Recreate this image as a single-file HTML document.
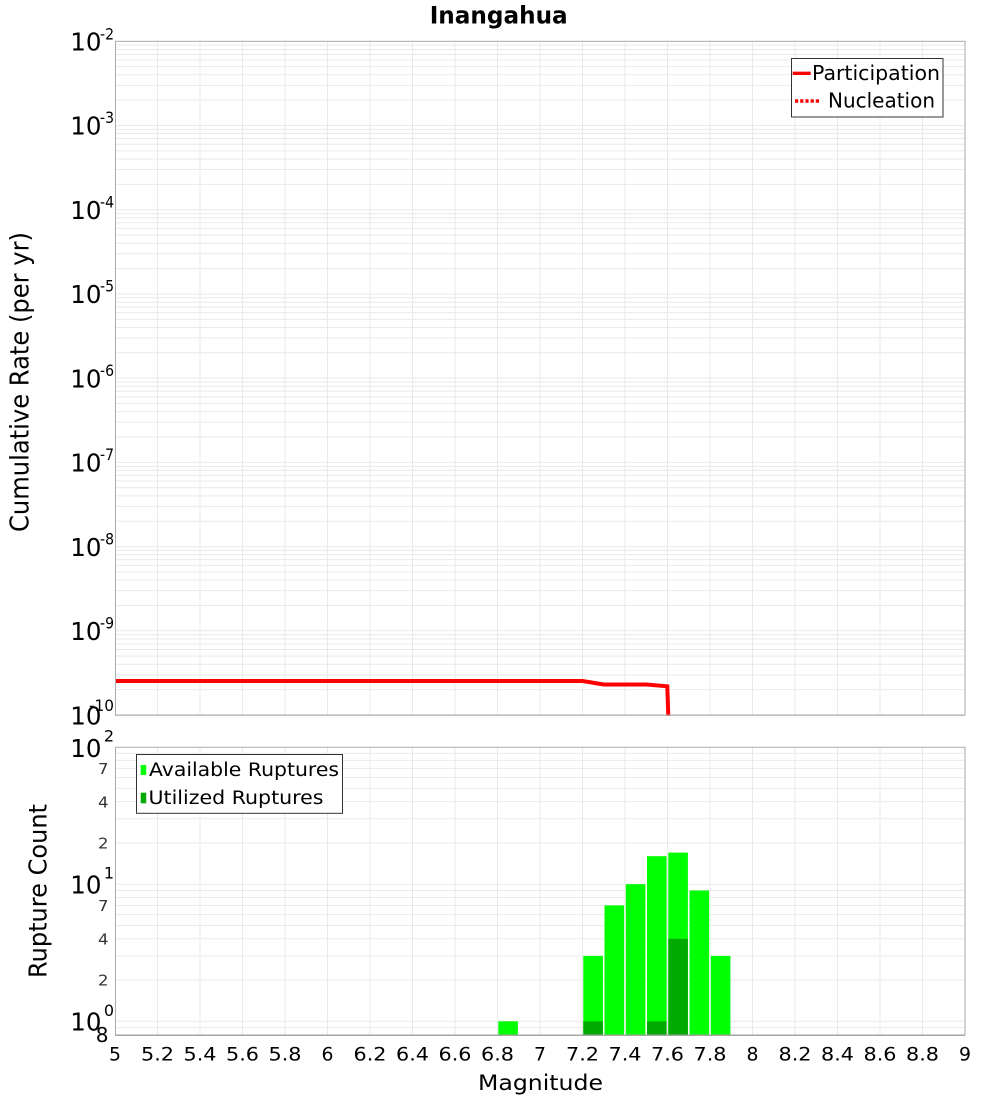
<!DOCTYPE html>
<html><head><meta charset="utf-8"><style>
html,body{margin:0;padding:0;background:#fff;}
svg{display:block;}
text{font-family:"DejaVu Sans","Liberation Sans",sans-serif;}
</style></head><body>
<svg width="1000" height="1100" viewBox="0 0 1000 1100" xmlns="http://www.w3.org/2000/svg">
<rect x="0" y="0" width="1000" height="1100" fill="#fff"/>
<!-- Title -->
<text x="498.7" y="23.3" font-size="24" font-weight="bold" text-anchor="middle" textLength="138" lengthAdjust="spacingAndGlyphs">Inangahua</text>

<!-- TOP PLOT -->
<g stroke="#e9e9e9" stroke-width="1" fill="none">
<path d="M157.5 41.3V715M200 41.3V715M242.5 41.3V715M285 41.3V715M327.5 41.3V715M370 41.3V715M412.5 41.3V715M455 41.3V715M497.5 41.3V715M540 41.3V715M582.5 41.3V715M625 41.3V715M667.5 41.3V715M710 41.3V715M752.5 41.3V715M795 41.3V715M837.5 41.3V715M880 41.3V715M922.5 41.3V715"/>
<g transform="translate(0,715)"><path d="M115 0H965M115 -25.35H965M115 -40.18H965M115 -50.7H965M115 -58.86H965M115 -65.53H965M115 -71.17H965M115 -76.05H965M115 -80.36H965"/></g>
<g transform="translate(0,630.79)"><path d="M115 0H965M115 -25.35H965M115 -40.18H965M115 -50.7H965M115 -58.86H965M115 -65.53H965M115 -71.17H965M115 -76.05H965M115 -80.36H965"/></g>
<g transform="translate(0,546.58)"><path d="M115 0H965M115 -25.35H965M115 -40.18H965M115 -50.7H965M115 -58.86H965M115 -65.53H965M115 -71.17H965M115 -76.05H965M115 -80.36H965"/></g>
<g transform="translate(0,462.36)"><path d="M115 0H965M115 -25.35H965M115 -40.18H965M115 -50.7H965M115 -58.86H965M115 -65.53H965M115 -71.17H965M115 -76.05H965M115 -80.36H965"/></g>
<g transform="translate(0,378.15)"><path d="M115 0H965M115 -25.35H965M115 -40.18H965M115 -50.7H965M115 -58.86H965M115 -65.53H965M115 -71.17H965M115 -76.05H965M115 -80.36H965"/></g>
<g transform="translate(0,293.94)"><path d="M115 0H965M115 -25.35H965M115 -40.18H965M115 -50.7H965M115 -58.86H965M115 -65.53H965M115 -71.17H965M115 -76.05H965M115 -80.36H965"/></g>
<g transform="translate(0,209.72)"><path d="M115 0H965M115 -25.35H965M115 -40.18H965M115 -50.7H965M115 -58.86H965M115 -65.53H965M115 -71.17H965M115 -76.05H965M115 -80.36H965"/></g>
<g transform="translate(0,125.51)"><path d="M115 0H965M115 -25.35H965M115 -40.18H965M115 -50.7H965M115 -58.86H965M115 -65.53H965M115 -71.17H965M115 -76.05H965M115 -80.36H965"/></g>
</g>

<!-- participation line -->
<polyline points="115,681 582.5,681 603.75,684.5 646.25,684.5 667.3,686.3 668.3,716" fill="none" stroke="#ff0000" stroke-width="4" stroke-linejoin="miter"/>

<rect x="115.5" y="41.3" width="849.5" height="673.7" fill="none" stroke="#aaaaaa" stroke-width="1"/>
<rect x="0" y="716" width="1000" height="3" fill="#fff"/>
<line x1="115" y1="715.3" x2="965" y2="715.3" stroke="#aaaaaa" stroke-width="1"/>

<!-- top legend -->
<rect x="791.5" y="58.5" width="151.5" height="58.5" fill="#fff" stroke="#333" stroke-width="1"/>
<line x1="792.7" y1="73.3" x2="810.7" y2="73.3" stroke="#ff0000" stroke-width="3.4"/>
<text x="812" y="80" font-size="20" textLength="128" lengthAdjust="spacingAndGlyphs">Participation</text>
<line x1="795" y1="101" x2="820" y2="101" stroke="#ff0000" stroke-width="3.4" stroke-dasharray="3.2,2"/>
<text x="828" y="107.7" font-size="20" textLength="107" lengthAdjust="spacingAndGlyphs">Nucleation</text>

<!-- top y tick labels -->
<g font-size="24.5" fill="#000">
<text x="70.3" y="50.5">10</text>
<text x="70.3" y="134.7">10</text>
<text x="70.3" y="218.9">10</text>
<text x="70.3" y="303.1">10</text>
<text x="70.3" y="387.3">10</text>
<text x="70.3" y="471.5">10</text>
<text x="70.3" y="555.8">10</text>
<text x="70.3" y="640">10</text>
<text x="70.3" y="724.5">10</text>
</g>
<g font-size="16" fill="#000">
<text x="100" y="39.5" textLength="14" lengthAdjust="spacingAndGlyphs">-2</text>
<text x="100" y="123.2" textLength="14" lengthAdjust="spacingAndGlyphs">-3</text>
<text x="100" y="207.4" textLength="14" lengthAdjust="spacingAndGlyphs">-4</text>
<text x="100" y="291.6" textLength="14" lengthAdjust="spacingAndGlyphs">-5</text>
<text x="100" y="375.8" textLength="14" lengthAdjust="spacingAndGlyphs">-6</text>
<text x="100" y="460" textLength="14" lengthAdjust="spacingAndGlyphs">-7</text>
<text x="100" y="544.3" textLength="14" lengthAdjust="spacingAndGlyphs">-8</text>
<text x="100" y="628.5" textLength="14" lengthAdjust="spacingAndGlyphs">-9</text>
<text x="89" y="711" textLength="25" lengthAdjust="spacingAndGlyphs">-10</text>
</g>

<text transform="translate(28.3,382) rotate(-90)" font-size="25.5" text-anchor="middle" textLength="300" lengthAdjust="spacingAndGlyphs">Cumulative Rate (per yr)</text>

<!-- BOTTOM PLOT -->
<g stroke="#e9e9e9" stroke-width="1" fill="none">
<path d="M157.5 747V1035M200 747V1035M242.5 747V1035M285 747V1035M327.5 747V1035M370 747V1035M412.5 747V1035M455 747V1035M497.5 747V1035M540 747V1035M582.5 747V1035M625 747V1035M667.5 747V1035M710 747V1035M752.5 747V1035M795 747V1035M837.5 747V1035M880 747V1035M922.5 747V1035"/>
<g transform="translate(0,1021.3)"><path d="M115 0H965M115 -41.27H965M115 -65.41H965M115 -82.54H965M115 -95.83H965M115 -106.69H965M115 -115.86H965M115 -123.81H965M115 -130.83H965"/></g>
<g transform="translate(0,884.2)"><path d="M115 0H965M115 -41.27H965M115 -65.41H965M115 -82.54H965M115 -95.83H965M115 -106.69H965M115 -115.86H965M115 -123.81H965M115 -130.83H965"/></g>
<path d="M115 1027.6H965"/>
</g>

<!-- bars: available -->
<g fill="#00ff00">
<rect x="498.3" y="1021.3" width="19.6" height="13.7"/>
<rect x="583.3" y="955.9" width="19.6" height="79.1"/>
<rect x="604.5" y="905.4" width="19.6" height="129.6"/>
<rect x="625.8" y="884.2" width="19.6" height="150.8"/>
<rect x="647" y="856.2" width="19.6" height="178.8"/>
<rect x="668.3" y="852.6" width="19.6" height="182.4"/>
<rect x="689.5" y="890.5" width="19.6" height="144.5"/>
<rect x="710.8" y="955.9" width="19.6" height="79.1"/>
</g>
<!-- bars: utilized -->
<g fill="#00aa00">
<rect x="583.3" y="1021.3" width="19.6" height="13.7"/>
<rect x="647" y="1021.3" width="19.6" height="13.7"/>
<rect x="668.3" y="938.8" width="19.6" height="96.2"/>
</g>

<rect x="115.5" y="747.3" width="849.5" height="287.7" fill="none" stroke="#aaaaaa" stroke-width="1"/>
<line x1="115" y1="1035.3" x2="965" y2="1035.3" stroke="#999" stroke-width="1.2"/>

<!-- bottom legend -->
<rect x="136.5" y="754.5" width="206" height="58.8" fill="#fff" stroke="#333" stroke-width="1"/>
<rect x="140.7" y="765" width="5.5" height="10" fill="#00ff00"/>
<text x="149" y="776" font-size="18.5" textLength="190" lengthAdjust="spacingAndGlyphs">Available Ruptures</text>
<rect x="140.7" y="792.7" width="5.5" height="10.6" fill="#00aa00"/>
<text x="148.5" y="804" font-size="18.5" textLength="175" lengthAdjust="spacingAndGlyphs">Utilized Ruptures</text>

<!-- bottom y tick labels -->
<g font-size="24.5" fill="#000">
<text x="70.3" y="757">10</text>
<text x="70.3" y="893.5">10</text>
<text x="70.3" y="1030.3">10</text>
</g>
<g font-size="16" fill="#000" text-anchor="end">
<text x="114" y="741.7">2</text>
<text x="114" y="878.3">1</text>
<text x="114" y="1016">0</text>
</g>
<g font-size="15.5" fill="#333" text-anchor="end">
<text x="108.5" y="774" textLength="10.5" lengthAdjust="spacingAndGlyphs">7</text>
<text x="108.5" y="807.4" textLength="10.5" lengthAdjust="spacingAndGlyphs">4</text>
<text x="108.5" y="848.6" textLength="10.5" lengthAdjust="spacingAndGlyphs">2</text>
<text x="108.5" y="911.1" textLength="10.5" lengthAdjust="spacingAndGlyphs">7</text>
<text x="108.5" y="944.5" textLength="10.5" lengthAdjust="spacingAndGlyphs">4</text>
<text x="108.5" y="985.7" textLength="10.5" lengthAdjust="spacingAndGlyphs">2</text>
</g>
<text x="108.5" y="1042" font-size="20" text-anchor="end" fill="#000">8</text>

<text transform="translate(46.5,891) rotate(-90)" font-size="25" text-anchor="middle" textLength="174" lengthAdjust="spacingAndGlyphs">Rupture Count</text>

<!-- x tick labels -->
<g font-size="18.5" fill="#000" text-anchor="middle">
<text x="115" y="1060.5" textLength="12" lengthAdjust="spacingAndGlyphs">5</text>
<text x="157.5" y="1060.5" textLength="33" lengthAdjust="spacingAndGlyphs">5.2</text>
<text x="200" y="1060.5" textLength="33" lengthAdjust="spacingAndGlyphs">5.4</text>
<text x="242.5" y="1060.5" textLength="33" lengthAdjust="spacingAndGlyphs">5.6</text>
<text x="285" y="1060.5" textLength="33" lengthAdjust="spacingAndGlyphs">5.8</text>
<text x="327.5" y="1060.5" textLength="12" lengthAdjust="spacingAndGlyphs">6</text>
<text x="370" y="1060.5" textLength="33" lengthAdjust="spacingAndGlyphs">6.2</text>
<text x="412.5" y="1060.5" textLength="33" lengthAdjust="spacingAndGlyphs">6.4</text>
<text x="455" y="1060.5" textLength="33" lengthAdjust="spacingAndGlyphs">6.6</text>
<text x="497.5" y="1060.5" textLength="33" lengthAdjust="spacingAndGlyphs">6.8</text>
<text x="540" y="1060.5" textLength="12" lengthAdjust="spacingAndGlyphs">7</text>
<text x="582.5" y="1060.5" textLength="33" lengthAdjust="spacingAndGlyphs">7.2</text>
<text x="625" y="1060.5" textLength="33" lengthAdjust="spacingAndGlyphs">7.4</text>
<text x="667.5" y="1060.5" textLength="33" lengthAdjust="spacingAndGlyphs">7.6</text>
<text x="710" y="1060.5" textLength="33" lengthAdjust="spacingAndGlyphs">7.8</text>
<text x="752.5" y="1060.5" textLength="12" lengthAdjust="spacingAndGlyphs">8</text>
<text x="795" y="1060.5" textLength="33" lengthAdjust="spacingAndGlyphs">8.2</text>
<text x="837.5" y="1060.5" textLength="33" lengthAdjust="spacingAndGlyphs">8.4</text>
<text x="880" y="1060.5" textLength="33" lengthAdjust="spacingAndGlyphs">8.6</text>
<text x="922.5" y="1060.5" textLength="33" lengthAdjust="spacingAndGlyphs">8.8</text>
<text x="965" y="1060.5" textLength="12" lengthAdjust="spacingAndGlyphs">9</text>
</g>
<text x="540.5" y="1090" font-size="21.5" text-anchor="middle" textLength="125" lengthAdjust="spacingAndGlyphs">Magnitude</text>
</svg>
</body></html>
